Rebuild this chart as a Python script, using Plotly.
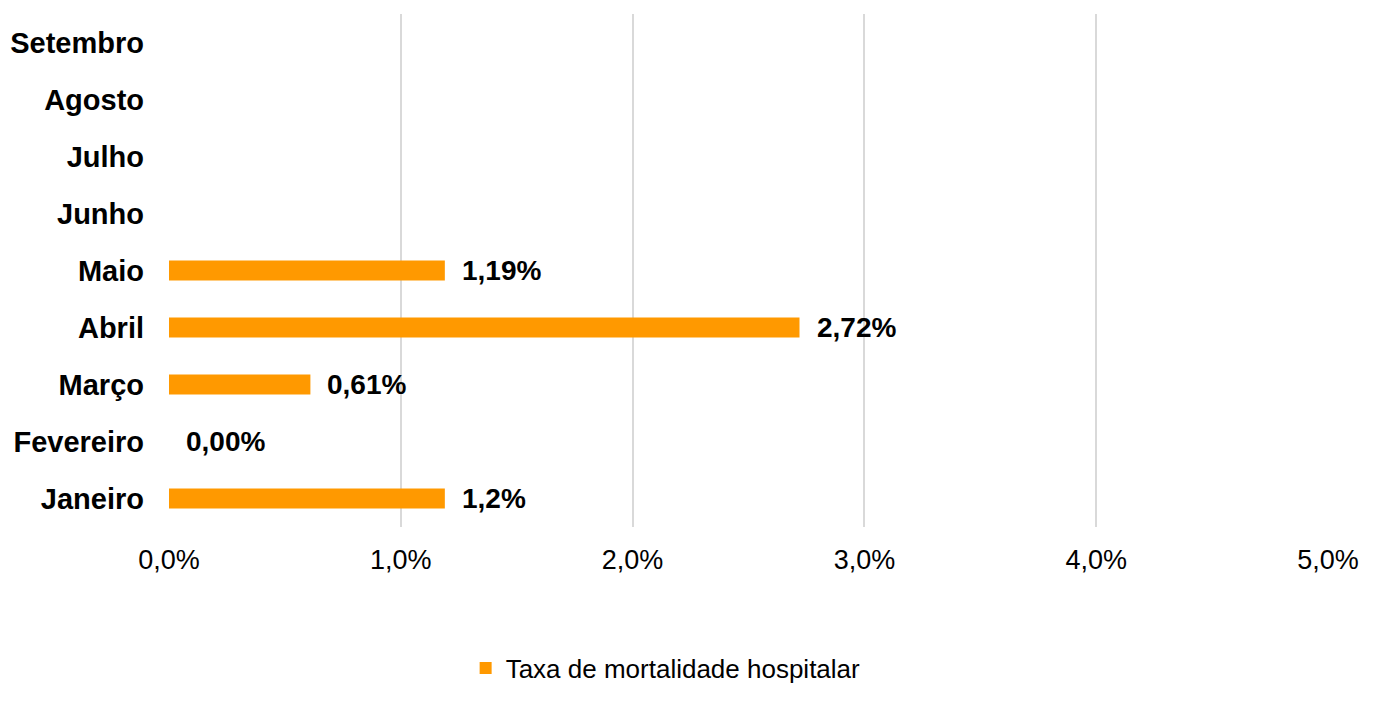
import plotly.graph_objects as go

months = ["Janeiro", "Fevereiro", "Março", "Abril", "Maio", "Junho", "Julho", "Agosto", "Setembro"]
values = [1.19, 0.00, 0.61, 2.72, 1.19, None, None, None, None]
labels = ["1,2%", "0,00%", "0,61%", "2,72%", "1,19%", "", "", "", ""]
tick_vals = [0, 1, 2, 3, 4, 5]
tick_text = ["0,0%", "1,0%", "2,0%", "3,0%", "4,0%", "5,0%"]
series_name = "Taxa de mortalidade hospitalar"
color = "#FF9900"
FONT = "Liberation Sans, Arial"

fig = go.Figure()
fig.add_trace(go.Bar(
    y=months, x=values, orientation="h", name=series_name,
    marker=dict(color=color, line=dict(width=0)),
    width=0.35,
))

for m, v, t in zip(months, values, labels):
    if v is None or not t:
        continue
    fig.add_annotation(x=v, y=m, text=t, xanchor="left", yanchor="middle",
                       xshift=15, showarrow=False,
                       font=dict(family=FONT, size=28, color="#000000", weight="bold"))

fig.update_layout(
    width=1378, height=711,
    margin=dict(l=161, r=58, t=6, b=192),
    plot_bgcolor="white", paper_bgcolor="white",
    font=dict(family=FONT, color="#000000"),
    showlegend=True,
    legend=dict(orientation="h", x=0.4285, xanchor="center",
                y=-0.275, yanchor="middle", itemwidth=30,
                font=dict(size=26, color="#000000")),
    xaxis=dict(range=[0, 5], tickvals=tick_vals, ticktext=tick_text,
               showgrid=True, gridcolor="#D9D9D9", gridwidth=1.5,
               zeroline=False, showline=False, ticks="", automargin=False,
               tickfont=dict(size=27, color="#000000"), ticklabelstandoff=14),
    yaxis=dict(categoryorder="array", categoryarray=months, range=[-0.5, 8.5],
               showgrid=False, zeroline=False, showline=False, ticks="", automargin=False,
               tickfont=dict(size=29, color="#000000", weight="bold"), ticklabelstandoff=24),
    bargap=0.65,
)

fig.write_html("out.html")
